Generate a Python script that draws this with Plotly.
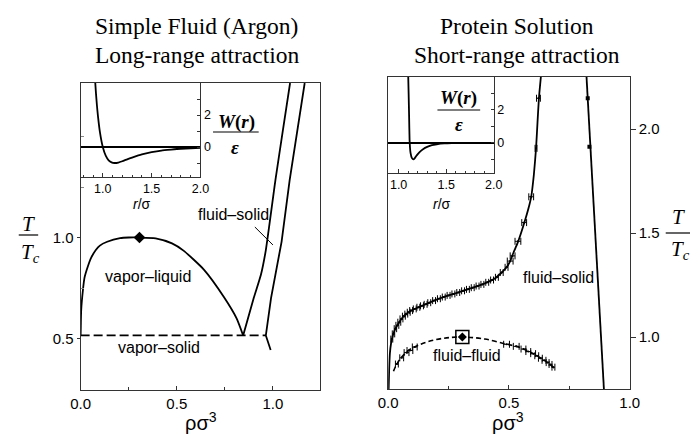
import plotly.graph_objects as go

W, H = 700, 435
def px(x):
    return x / W
def py(y):
    return 1 - y / H

# ---------------- data ----------------
# Left inset: pair potential W(r)/eps for argon (long-range)
lj_r = [0.92, 0.93, 0.94, 0.95, 0.97, 1.0, 1.03, 1.06, 1.09, 1.12, 1.16, 1.2, 1.25,
        1.3, 1.4, 1.5, 1.6, 1.7, 1.8, 2.0]
lj_w = [4.28, 3.37, 2.61, 1.96, 0.96, 0.0, -0.54, -0.83, -0.96, -1.0, -0.97, -0.89,
        -0.77, -0.66, -0.46, -0.32, -0.22, -0.16, -0.11, -0.06]

# Right inset: pair potential for protein (short-range)
sr_r = [1.100, 1.105, 1.110, 1.115, 1.125, 1.14, 1.155, 1.17, 1.19, 1.22, 1.26,
        1.30, 1.35, 1.40, 1.48, 1.56, 1.65, 2.0]
sr_w = [4.2, 3.0, 1.6, 0.2, -0.6, -0.92, -1.0, -0.92, -0.75, -0.55, -0.36,
        -0.24, -0.13, -0.08, -0.03, -0.01, 0.0, 0.0]

# Left main: argon phase diagram
vl_rho = [0.0, 0.001, 0.003, 0.012, 0.02, 0.037, 0.055, 0.079, 0.10, 0.138, 0.205,
          0.25, 0.306, 0.39, 0.475, 0.535, 0.643, 0.744, 0.811, 0.845]
vl_t = [0.515, 0.56, 0.641, 0.74, 0.80, 0.855, 0.90, 0.938, 0.96, 0.979, 0.997,
        1.0, 1.0, 0.996, 0.971, 0.935, 0.839, 0.707, 0.60, 0.515]
freeze_rho = [0.845, 0.90, 0.937, 0.963, 1.013, 1.05, 1.089]
freeze_t = [0.515, 0.70, 0.814, 0.938, 1.285, 1.52, 1.765]
melt_rho = [0.988, 0.963, 0.99, 1.02, 1.045, 1.087, 1.125, 1.165]
melt_t = [0.443, 0.515, 0.70, 0.85, 0.98, 1.285, 1.52, 1.765]
triple_rho = [0.0, 0.963]
triple_t = [0.515, 0.515]
argon_crit_rho = [0.306]
argon_crit_t = [1.0]
pointer_rho = [0.906, 1.0]
pointer_t = [1.052, 0.963]

# Right main: protein solution phase diagram
fluid_rho = [0.002, 0.004, 0.007, 0.012, 0.02, 0.03, 0.045, 0.06, 0.08, 0.10, 0.13,
             0.16, 0.20, 0.25, 0.30, 0.35, 0.40, 0.44, 0.47, 0.49, 0.505, 0.52, 0.535,
             0.55, 0.565, 0.58, 0.592, 0.603, 0.612, 0.618, 0.624, 0.632]
fluid_t = [0.75, 0.84, 0.92, 0.97, 1.01, 1.04, 1.07, 1.095, 1.115, 1.13, 1.145,
           1.16, 1.18, 1.20, 1.218, 1.237, 1.258, 1.28, 1.31, 1.335, 1.365, 1.41, 1.45,
           1.50, 1.555, 1.615, 1.674, 1.78, 1.907, 2.03, 2.148, 2.25]
solid_rho = [0.821, 0.893]
solid_t = [2.25, 0.75]
ff_rho = [0.022, 0.03, 0.05, 0.083, 0.12, 0.163, 0.23, 0.307, 0.40, 0.485, 0.53,
          0.565, 0.60, 0.632, 0.66, 0.686]
ff_t = [0.835, 0.857, 0.895, 0.935, 0.958, 0.977, 0.994, 1.0, 0.99, 0.967, 0.955,
        0.94, 0.92, 0.898, 0.877, 0.852]

# simulation points with horizontal error bars
fs_pts_rho = [0.015, 0.022, 0.03, 0.038, 0.046, 0.055, 0.065, 0.075, 0.085, 0.095,
              0.11, 0.125, 0.14, 0.155, 0.17, 0.19, 0.21, 0.23, 0.25, 0.27, 0.29,
              0.31, 0.33, 0.35, 0.37, 0.39, 0.41, 0.43, 0.45, 0.47, 0.49,
              0.505, 0.515, 0.537, 0.563, 0.592, 0.612, 0.622]
fs_pts_t = [0.99, 1.015, 1.04, 1.056, 1.071, 1.087, 1.10, 1.11, 1.119, 1.127,
            1.135, 1.143, 1.15, 1.157, 1.165, 1.175, 1.184, 1.192, 1.20, 1.207, 1.214,
            1.222, 1.229, 1.237, 1.245, 1.253, 1.263, 1.274, 1.287, 1.31, 1.335,
            1.365, 1.39, 1.46, 1.55, 1.674, 1.907, 2.148]
fs_pts_err = [0.004, 0.005, 0.005, 0.006, 0.006, 0.006, 0.006, 0.006, 0.006, 0.006,
              0.006, 0.006, 0.006, 0.006, 0.006, 0.006, 0.006, 0.006, 0.006, 0.006, 0.006,
              0.006, 0.006, 0.006, 0.006, 0.006, 0.006, 0.006, 0.006, 0.006, 0.006,
              0.012, 0.01, 0.012, 0.01, 0.01, 0.004, 0.008]
solid_pts_rho = [0.826, 0.833]
solid_pts_t = [2.148, 1.915]
ff_pts_rho = [0.036, 0.056, 0.076, 0.09, 0.11, 0.49, 0.53, 0.56, 0.58, 0.60, 0.615,
              0.63, 0.645, 0.66, 0.672, 0.684]
ff_pts_t = [0.87, 0.90, 0.925, 0.935, 0.952, 0.965, 0.955, 0.942, 0.93, 0.92, 0.91,
            0.898, 0.888, 0.877, 0.868, 0.855]
ff_pts_err = [0.006, 0.008, 0.01, 0.012, 0.01, 0.012, 0.012, 0.01, 0.01, 0.01, 0.008,
              0.008, 0.008, 0.006, 0.006, 0.006]
protein_crit_rho = [0.307]
protein_crit_t = [1.0]

# tick values
rho_ticks = [0.0, 0.5, 1.0]
rho_minor = [0.25, 0.75]
argon_t_ticks = [0.5, 1.0]
argon_t_minor = [0.75, 1.25, 1.5]
protein_t_ticks = [1.0, 1.5, 2.0]
r_ticks = [1.0, 1.5, 2.0]
w_ticks = [0, 2]
w_minor = [-1, 1, 3]

# ---------------- figure ----------------
BLK = "black"
LW = 1.8
fig = go.Figure()

# left main
fig.add_trace(go.Scatter(x=vl_rho, y=vl_t, mode="lines", line=dict(color=BLK, width=LW, shape="spline", smoothing=0.6),
                         xaxis="x", yaxis="y"))
fig.add_trace(go.Scatter(x=triple_rho, y=triple_t, mode="lines", line=dict(color=BLK, width=LW, dash="9px,4px"),
                         xaxis="x", yaxis="y"))
fig.add_trace(go.Scatter(x=freeze_rho, y=freeze_t, mode="lines", line=dict(color=BLK, width=LW, shape="spline", smoothing=0.5),
                         xaxis="x", yaxis="y"))
fig.add_trace(go.Scatter(x=melt_rho, y=melt_t, mode="lines", line=dict(color=BLK, width=LW),
                         xaxis="x", yaxis="y"))
fig.add_trace(go.Scatter(x=pointer_rho, y=pointer_t, mode="lines", line=dict(color=BLK, width=1),
                         xaxis="x", yaxis="y"))
fig.add_trace(go.Scatter(x=argon_crit_rho, y=argon_crit_t, mode="markers",
                         marker=dict(symbol="diamond", size=9, color=BLK), xaxis="x", yaxis="y"))

# right main
fig.add_trace(go.Scatter(x=fluid_rho, y=fluid_t, mode="lines", line=dict(color=BLK, width=LW, shape="spline", smoothing=0.5),
                         xaxis="x2", yaxis="y2"))
fig.add_trace(go.Scatter(x=solid_rho, y=solid_t, mode="lines", line=dict(color=BLK, width=LW),
                         xaxis="x2", yaxis="y2"))
fig.add_trace(go.Scatter(x=ff_rho, y=ff_t, mode="lines", line=dict(color=BLK, width=1.6, dash="5px,3px", shape="spline"),
                         xaxis="x2", yaxis="y2"))
fig.add_trace(go.Scatter(x=fs_pts_rho, y=fs_pts_t, mode="markers",
                         marker=dict(size=2, color=BLK),
                         error_x=dict(type="data", array=fs_pts_err, color=BLK, thickness=1, width=3.5),
                         xaxis="x2", yaxis="y2"))
fig.add_trace(go.Scatter(x=ff_pts_rho, y=ff_pts_t, mode="markers",
                         marker=dict(size=2, color=BLK),
                         error_x=dict(type="data", array=ff_pts_err, color=BLK, thickness=1, width=3.5),
                         xaxis="x2", yaxis="y2"))
fig.add_trace(go.Scatter(x=solid_pts_rho, y=solid_pts_t, mode="markers",
                         marker=dict(symbol="square", size=4, color=BLK), xaxis="x2", yaxis="y2"))
fig.add_trace(go.Scatter(x=protein_crit_rho, y=protein_crit_t, mode="markers",
                         marker=dict(symbol="square-open", size=13, color=BLK, line=dict(width=1.5)),
                         xaxis="x2", yaxis="y2"))
fig.add_trace(go.Scatter(x=protein_crit_rho, y=protein_crit_t, mode="markers",
                         marker=dict(symbol="diamond", size=7, color=BLK), xaxis="x2", yaxis="y2"))

# insets
fig.add_trace(go.Scatter(x=lj_r, y=lj_w, mode="lines", line=dict(color=BLK, width=LW, shape="spline", smoothing=0.4),
                         xaxis="x3", yaxis="y3"))
fig.add_trace(go.Scatter(x=sr_r, y=sr_w, mode="lines", line=dict(color=BLK, width=LW, shape="spline", smoothing=0.4),
                         xaxis="x4", yaxis="y4"))

AX = "#333"
TF = dict(family="Liberation Sans, Arial", size=15, color=BLK)
TFS = dict(family="Liberation Sans, Arial", size=12.5, color=BLK)

common = dict(showgrid=False, zeroline=False, showline=True, linecolor=AX, linewidth=1,
              tickcolor=AX, tickfont=TF, fixedrange=True)

def fmt1(v):
    return f"{v:.1f}"

fig.update_layout(
    width=W, height=H, margin=dict(l=0, r=0, t=0, b=0),
    paper_bgcolor="white", plot_bgcolor="rgba(0,0,0,0)", showlegend=False,
    xaxis=dict(**common, domain=[px(72.7), px(319)], range=[0, 1.244], anchor="y",
               mirror=True, ticks="inside", ticklen=4,
               tickvals=rho_ticks, ticktext=[fmt1(v) for v in rho_ticks],
               minor=dict(ticks="inside", ticklen=3, tickvals=rho_minor, tickcolor=AX)),
    yaxis=dict(**common, domain=[py(390), py(83)], range=[0.245, 1.765], anchor="x",
               mirror=True, ticks="outside", ticklen=3,
               tickvals=argon_t_ticks, ticktext=[fmt1(v) for v in argon_t_ticks],
               minor=dict(ticks="inside", ticklen=3, tickvals=argon_t_minor, tickcolor="#888")),
    xaxis2=dict(**common, domain=[px(389.3), px(638)], range=[0, 1.0], anchor="y2",
                mirror=True, ticks="inside", ticklen=4,
                tickvals=rho_ticks, ticktext=[fmt1(v) for v in rho_ticks],
                minor=dict(ticks="inside", ticklen=3, tickvals=rho_minor, tickcolor=AX)),
    yaxis2=dict(**common, domain=[py(389), py(77)], range=[0.75, 2.25], anchor="x2",
                side="right", mirror=True, ticks="outside", ticklen=5,
                tickvals=protein_t_ticks, ticktext=[fmt1(v) for v in protein_t_ticks]),
    xaxis3=dict(**{**common, "tickfont": TFS}, domain=[px(72.7), px(196)], range=[0.773, 2.0], anchor="y3",
                ticks="inside", ticklen=4,
                tickvals=r_ticks, ticktext=[fmt1(v) for v in r_ticks],
                minor=dict(ticks="inside", ticklen=2, dtick=0.1, tickcolor=AX)),
    yaxis3=dict(**{**common, "tickfont": TFS, "zeroline": True, "zerolinecolor": BLK, "zerolinewidth": 1.5},
                domain=[py(177), py(83)], range=[-1.875, 4.0], anchor="x3",
                side="right", ticks="inside", ticklen=3,
                tickvals=w_ticks, ticktext=[str(v) for v in w_ticks],
                minor=dict(ticks="inside", ticklen=3, tickvals=w_minor, tickcolor=AX)),
    xaxis4=dict(**{**common, "tickfont": TFS}, domain=[px(389.3), px(498)], range=[0.89, 2.0], anchor="y4",
                ticks="inside", ticklen=4,
                tickvals=r_ticks, ticktext=[fmt1(v) for v in r_ticks],
                minor=dict(ticks="inside", ticklen=2, dtick=0.1, tickcolor=AX)),
    yaxis4=dict(**{**common, "tickfont": TFS, "zeroline": True, "zerolinecolor": BLK, "zerolinewidth": 1.5},
                domain=[py(173), py(77)], range=[-1.82, 4.0], anchor="x4",
                side="right", ticks="inside", ticklen=3,
                tickvals=w_ticks, ticktext=[str(v) for v in w_ticks],
                minor=dict(ticks="inside", ticklen=3, tickvals=w_minor, tickcolor=AX)),
)

SERIF = "Liberation Serif, Times New Roman"
SANS = "Liberation Sans, Arial"
anns = []
def ann(text, x, y, size, family=SANS, xanchor="center"):
    anns.append(dict(text=text, x=px(x), y=py(y), xref="paper", yref="paper", showarrow=False,
                     xanchor=xanchor, yanchor="middle", font=dict(family=family, size=size, color=BLK)))

ann("Simple Fluid (Argon)", 192, 26, 23.5, SERIF)
ann("Long-range attraction", 192, 55, 23.5, SERIF)
ann("Protein Solution", 522, 26, 23.5, SERIF)
ann("Short-range attraction", 522, 55, 23.5, SERIF)

ann("vapor\u2013liquid", 142.5, 276, 16)
ann("vapor\u2013solid", 153, 347, 16)
ann("fluid\u2013solid", 230, 214, 16)
ann("fluid\u2013solid", 565, 277, 16)
ann("fluid\u2013fluid", 470, 355, 16)

ann("\u03c1\u03c3<sup>3</sup>", 197, 421, 20)
ann("\u03c1\u03c3<sup>3</sup>", 513, 421, 20)

ann("<i>r</i>/\u03c3", 136, 204, 14)
ann("<i>r</i>/\u03c3", 445, 204, 14)

# W(r)/eps fractions
ann("<b><i>W</i>(<i>r</i>)</b>", 233, 122, 19, SERIF)
ann("<b><i>\u03b5</i></b>", 232, 147, 19, SERIF)
ann("<b><i>W</i>(<i>r</i>)</b>", 462, 98, 19, SERIF)
ann("<b><i>\u03b5</i></b>", 462, 125, 19, SERIF)

# T/Tc fractions
ann("<i>T</i>", 19, 224, 21, SERIF)
ann("<i>T</i><sub><i>c</i></sub>", 21, 253, 21, SERIF)
ann("<i>T</i>", 688, 217, 21, SERIF)
ann("<i>T</i><sub><i>c</i></sub>", 690, 250, 21, SERIF)

shapes = []
def hline(x0, x1, y, w=1.2):
    shapes.append(dict(type="line", xref="paper", yref="paper", x0=px(x0), x1=px(x1), y0=py(y), y1=py(y),
                       line=dict(color=BLK, width=w)))
hline(209, 256, 132)
hline(440, 484, 110)
hline(9, 29, 235)
hline(675, 700, 233)

fig.update_layout(annotations=anns, shapes=shapes)
fig.write_html("out.html")
